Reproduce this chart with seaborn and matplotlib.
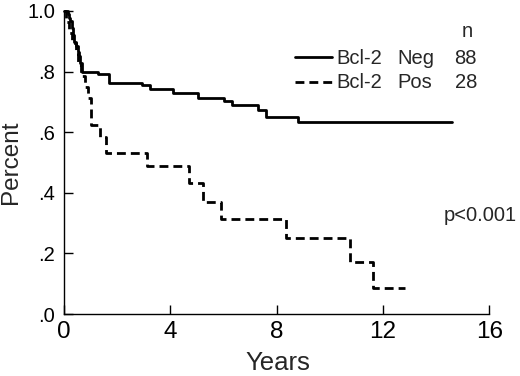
import pandas as pd
import matplotlib.pyplot as plt
import seaborn as sns
from matplotlib.lines import Line2D

# Kaplan-Meier steps
neg_years = [0, 0.15, 0.2, 0.25, 0.3, 0.35, 0.4, 0.47, 0.52, 0.58, 0.63, 0.7,
             1.3, 1.71, 2.95, 3.24, 4.1, 5.04, 6.03, 6.31, 7.32, 7.6, 8.82, 14.6]
neg_surv = [1.0, 0.989, 0.977, 0.966, 0.943, 0.92, 0.898, 0.886, 0.864, 0.852, 0.83, 0.80,
            0.791, 0.761, 0.756, 0.743, 0.728, 0.714, 0.704, 0.690, 0.673, 0.649, 0.633, 0.633]

pos_years = [0, 0.1, 0.2, 0.3, 0.45, 0.55, 0.65, 0.8, 0.9, 1.03, 1.37, 1.6,
             3.12, 4.72, 5.25, 5.91, 8.36, 10.76, 11.64, 12.83]
pos_surv = [1.0, 0.964, 0.929, 0.893, 0.857, 0.821, 0.786, 0.75, 0.714, 0.624, 0.585, 0.53,
            0.488, 0.431, 0.369, 0.3125, 0.25, 0.173, 0.085, 0.085]

groups = ["Neg", "Pos"]
counts = [88, 28]
x_ticks = [0, 4, 8, 12, 16]
y_ticks = [0, 0.2, 0.4, 0.6, 0.8, 1.0]
y_tick_labels = [".0", ".2", ".4", ".6", ".8", "1.0"]

df = pd.concat([
    pd.DataFrame({"Years": neg_years, "Percent": neg_surv, "group": "Neg"}),
    pd.DataFrame({"Years": pos_years, "Percent": pos_surv, "group": "Pos"}),
])

sns.set_style("ticks")
plt.rcParams["font.family"] = ["Liberation Sans", "DejaVu Sans"]

fig = plt.figure(figsize=(5.2, 3.76), dpi=100)
ax = fig.add_axes([63.7 / 520, 1 - 314 / 376, 425.6 / 520, 303 / 376])

sns.lineplot(
    data=df, x="Years", y="Percent", style="group",
    dashes={"Neg": "", "Pos": (3.2, 1.8)},
    color="black", linewidth=2.0, drawstyle="steps-post",
    estimator=None, legend=False, ax=ax, clip_on=False,
)

ax.set_xlim(0, 16)
ax.set_ylim(0, 1.0)
ax.set_xticks(x_ticks)
ax.set_xticklabels([str(t) for t in x_ticks], fontsize=17.5)
ax.set_yticks(y_ticks)
ax.set_yticklabels(y_tick_labels, fontsize=14.5)
ax.tick_params(direction="in", length=6.5, width=1.0, colors="black")
ax.tick_params(axis="x", pad=5)
ax.tick_params(axis="y", pad=6)
for s in ["top", "right"]:
    ax.spines[s].set_visible(False)
for s in ["left", "bottom"]:
    ax.spines[s].set_linewidth(1.0)
    ax.spines[s].set_color("black")

ax.set_xlabel("")
ax.set_ylabel("Percent", fontsize=17.5, labelpad=4)
fig.text(278 / 520, 1 - 370 / 376, "Years", fontsize=18.5, ha="center", va="baseline")

# legend block
fig.text(467 / 520, 1 - 36.7 / 376, "n", fontsize=14.5, ha="center", va="baseline")
row_y = [57, 82]
for i, (g, n) in enumerate(zip(groups, counts)):
    yy = 1 - row_y[i] / 376
    fig.add_artist(Line2D([295 / 520, 332 / 520], [yy, yy], color="black", linewidth=2.0,
                          linestyle="-" if g == "Neg" else (0, (3.2, 1.8))))
    yb = 1 - (row_y[i] + 6.5) / 376
    fig.text(336 / 520, yb, "Bcl-2", fontsize=14.5, va="baseline")
    fig.text(397 / 520, yb, g, fontsize=14.5, va="baseline")
    fig.text(477 / 520, yb, str(n), fontsize=14.5, va="baseline", ha="right")

fig.text(444 / 520, 1 - 221 / 376, "p<0.001", fontsize=14.5, va="baseline")

fig.savefig("out.png", dpi=100)
